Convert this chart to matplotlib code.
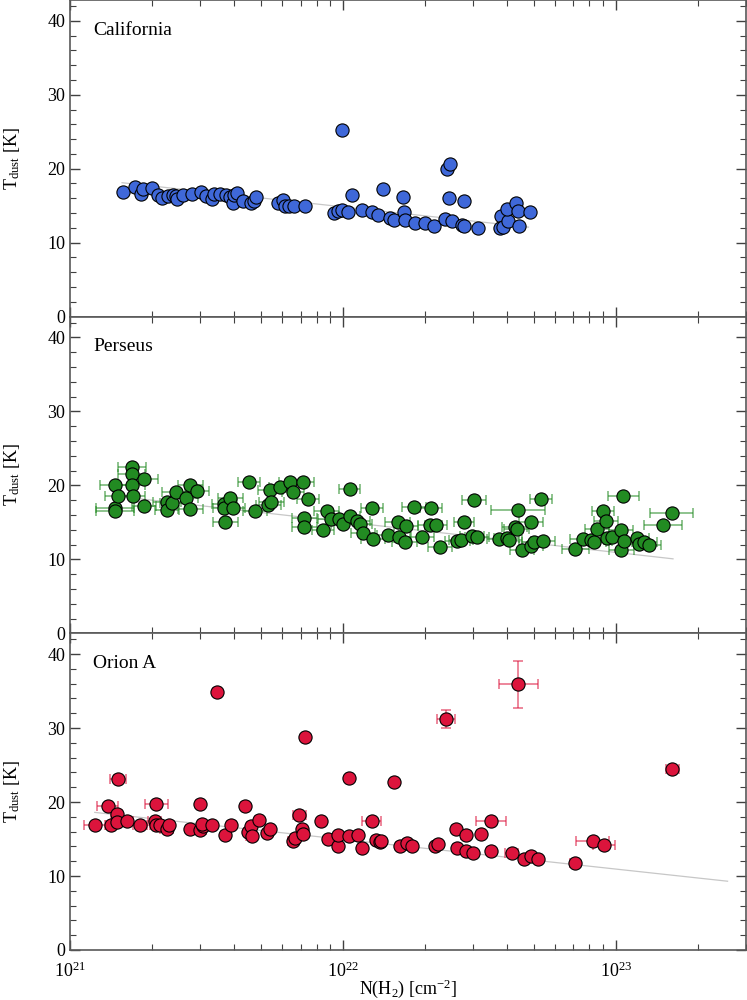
import matplotlib
matplotlib.use('Agg')
import matplotlib.pyplot as plt
import numpy as np
from matplotlib.ticker import LogLocator, MultipleLocator, NullFormatter

plt.rcParams['font.family'] = ['Liberation Serif', 'DejaVu Serif']
plt.rcParams['mathtext.fontset'] = 'custom'
plt.rcParams['mathtext.rm'] = 'Liberation Serif'
plt.rcParams['mathtext.it'] = 'Liberation Serif:italic'

# California: log10 N(H2), T_dust
cal_logN = [21.192, 21.238, 21.260, 21.268, 21.299, 21.322, 21.338, 21.359, 21.377, 21.387,
            21.392, 21.414, 21.445, 21.479, 21.499, 21.521, 21.526, 21.550, 21.572, 21.586,
            21.596, 21.599, 21.613, 21.633, 21.663, 21.672, 21.681, 21.760, 21.781, 21.788,
            21.803, 21.821, 21.860, 21.968, 21.983, 21.995, 21.996, 22.019, 22.034, 22.068,
            22.107, 22.129, 22.147, 22.174, 22.186, 22.219, 22.225, 22.229, 22.265, 22.299,
            22.335, 22.375, 22.381, 22.393, 22.387, 22.401, 22.442, 22.438, 22.445, 22.494,
            22.579, 22.575, 22.588, 22.606, 22.603, 22.633, 22.640, 22.646, 22.684]
cal_T = [16.8, 17.5, 16.6, 17.2, 17.4, 16.4, 16.1, 16.3, 16.4, 16.3,
         15.9, 16.5, 16.6, 16.8, 16.3, 15.9, 16.6, 16.6, 16.4, 16.2,
         15.4, 16.4, 16.7, 15.6, 15.4, 15.7, 16.2, 15.3, 15.8, 14.9,
         14.9, 15.0, 15.0, 14.0, 14.3, 14.4, 25.2, 14.2, 16.4, 14.4,
         14.2, 13.7, 17.2, 13.3, 13.0, 16.2, 14.2, 13.0, 12.6, 12.6,
         12.2, 13.2, 20.0, 20.7, 16.0, 12.9, 15.6, 12.4, 12.2, 12.0,
         13.6, 12.0, 12.1, 12.9, 14.5, 15.3, 14.3, 12.3, 14.1]

# Perseus
per_logN = [21.165, 21.165, 21.165, 21.177, 21.226, 21.226, 21.226, 21.229, 21.271, 21.271,
            21.355, 21.355, 21.374, 21.387, 21.424, 21.440, 21.440, 21.465, 21.565, 21.569,
            21.565, 21.587, 21.597, 21.656, 21.677, 21.726, 21.734, 21.737, 21.768, 21.806,
            21.818, 21.855, 21.858, 21.858, 21.871, 21.927, 21.940, 21.955, 21.984, 22.000,
            22.024, 22.024, 22.053, 22.061, 22.073, 22.106, 22.110, 22.165, 22.200, 22.206,
            22.226, 22.231, 22.261, 22.290, 22.319, 22.324, 22.342, 22.355, 22.419, 22.432,
            22.444, 22.473, 22.481, 22.492, 22.573, 22.600, 22.610, 22.629, 22.637, 22.642,
            22.656, 22.690, 22.690, 22.702, 22.726, 22.734, 22.852, 22.879, 22.911, 22.919,
            22.932, 22.952, 22.965, 22.968, 22.987, 23.019, 23.027, 23.021, 23.032, 23.077,
            23.084, 23.105, 23.121, 23.173, 23.205]
per_T = [20.1, 16.9, 16.6, 18.6, 22.5, 21.5, 20.0, 18.5, 20.9, 17.2,
         17.7, 16.7, 17.6, 19.1, 18.3, 20.1, 16.8, 19.3, 17.5, 15.0,
         17.0, 18.3, 16.9, 20.5, 16.6, 17.4, 19.4, 17.7, 19.8, 20.5,
         19.1, 20.5, 15.6, 14.4, 18.2, 14.0, 16.6, 15.5, 15.4, 14.8,
         19.5, 15.9, 15.2, 14.8, 13.5, 16.9, 12.8, 13.3, 15.1, 13.0,
         12.3, 14.5, 17.1, 13.0, 14.6, 16.9, 14.7, 11.7, 12.5, 12.6,
         15.1, 13.1, 18.0, 13.0, 12.7, 12.9, 12.6, 14.4, 14.1, 16.7,
         11.3, 15.0, 11.8, 12.4, 18.2, 12.5, 11.4, 12.8, 12.6, 12.3,
         14.1, 16.6, 15.2, 12.9, 13.0, 14.0, 18.5, 11.3, 12.5, 12.9,
         12.1, 12.4, 12.0, 14.6, 16.2]
# half-width of the N(H2) error bars in dex
per_xerr = [0.055, 0.070, 0.070, 0.050, 0.052, 0.050, 0.050, 0.045, 0.050, 0.045,
            0.050, 0.045, 0.045, 0.050, 0.045, 0.045, 0.045, 0.045, 0.045, 0.045,
            0.040, 0.045, 0.045, 0.040, 0.045, 0.045, 0.045, 0.045, 0.040, 0.040,
            0.040, 0.040, 0.045, 0.045, 0.040, 0.040, 0.045, 0.045, 0.045, 0.045,
            0.037, 0.040, 0.045, 0.045, 0.045, 0.040, 0.045, 0.040, 0.045, 0.045,
            0.045, 0.045, 0.045, 0.045, 0.045, 0.040, 0.040, 0.045, 0.045, 0.045,
            0.037, 0.045, 0.045, 0.045, 0.045, 0.045, 0.045, 0.045, 0.045, 0.100,
            0.045, 0.045, 0.045, 0.045, 0.040, 0.045, 0.050, 0.045, 0.045, 0.045,
            0.045, 0.040, 0.045, 0.045, 0.045, 0.045, 0.057, 0.045, 0.045, 0.045,
            0.045, 0.045, 0.045, 0.070, 0.079]

# Orion A
ori_logN = [21.091, 21.138, 21.148, 21.170, 21.175, 21.173, 21.209, 21.255, 21.309, 21.315,
            21.313, 21.328, 21.353, 21.361, 21.438, 21.477, 21.477, 21.487, 21.484, 21.519,
            21.538, 21.566, 21.591, 21.642, 21.652, 21.663, 21.665, 21.691, 21.722, 21.733,
            21.815, 21.825, 21.839, 21.849, 21.854, 21.861, 21.921, 21.946, 21.981, 21.983,
            22.021, 22.021, 22.056, 22.071, 22.105, 22.122, 22.135, 22.140, 22.186, 22.210,
            22.235, 22.253, 22.336, 22.348, 22.377, 22.415, 22.419, 22.451, 22.451, 22.478,
            22.507, 22.543, 22.543, 22.618, 22.643, 22.663, 22.689, 22.716, 22.849, 22.916,
            22.957, 23.208]
ori_T = [16.95, 19.5, 16.95, 18.4, 23.1, 17.3, 17.5, 16.95, 17.4, 19.7,
         16.95, 16.9, 16.4, 16.9, 16.4, 19.7, 16.2, 16.7, 17.0, 16.9,
         34.9, 15.6, 16.9, 19.4, 16.0, 16.7, 15.4, 17.6, 15.8, 16.3,
         14.7, 15.2, 18.3, 16.4, 15.7, 28.8, 17.5, 15.0, 14.1, 15.6,
         23.2, 15.4, 15.5, 13.8, 17.4, 14.9, 14.6, 14.7, 22.7, 14.1,
         14.5, 14.1, 14.1, 14.3, 31.2, 16.4, 13.8, 15.5, 13.4, 13.1,
         15.7, 17.4, 13.4, 13.1, 35.9, 12.3, 12.7, 12.3, 11.8, 14.7,
         14.2, 24.5]
ori_xerr = [0.039, 0.038, 0.020, 0.020, 0.029, 0.020, 0.020, 0.025, 0.025, 0.042,
            0.020, 0.020, 0.025, 0.020, 0.015, 0.015, 0.020, 0.015, 0.015, 0.015,
            0.015, 0.015, 0.015, 0.015, 0.015, 0.015, 0.020, 0.015, 0.015, 0.015,
            0.015, 0.015, 0.024, 0.015, 0.015, 0.010, 0.010, 0.010, 0.010, 0.010,
            0.010, 0.010, 0.010, 0.015, 0.035, 0.015, 0.015, 0.015, 0.010, 0.015,
            0.015, 0.020, 0.010, 0.010, 0.032, 0.015, 0.015, 0.020, 0.015, 0.015,
            0.015, 0.056, 0.015, 0.025, 0.071, 0.015, 0.015, 0.015, 0.015, 0.060,
            0.040, 0.024]
ori_yerr = [0.3, 0.3, 0.3, 0.3, 0.5, 0.3, 0.3, 0.3, 0.3, 0.3,
            0.3, 0.3, 0.3, 0.3, 0.3, 0.3, 0.3, 0.3, 0.3, 0.3,
            0.4, 0.3, 0.3, 0.3, 0.3, 0.3, 0.3, 0.3, 0.3, 0.3,
            0.3, 0.3, 0.3, 0.3, 0.3, 0.3, 0.3, 0.3, 0.3, 0.3,
            0.3, 0.3, 0.3, 0.3, 0.3, 0.3, 0.3, 0.3, 0.3, 0.3,
            0.3, 0.3, 0.3, 0.3, 1.2, 0.3, 0.3, 0.3, 0.3, 0.3,
            0.3, 0.3, 0.3, 0.3, 3.2, 0.3, 0.3, 0.3, 0.3, 0.3,
            0.3, 0.4]

# linear fits T = a + b*(logN - 22), drawn over [lo, hi] in logN
fit_a = [14.84, 15.09, 14.95]
fit_b = [-4.03, -4.15, -4.01]
fit_lo = [21.19, 21.17, 21.09]
fit_hi = [22.68, 23.21, 23.41]

names = ['California', 'Perseus', 'Orion A']
colors = ['#3f68d9', '#228b22', '#dc143c']


def xerr_from_dex(logN, dex):
    logN = np.asarray(logN)
    dex = np.asarray(dex)
    x = 10**logN
    return np.vstack([x - 10**(logN - dex), 10**(logN + dex) - x])


panels = [
    (cal_logN, cal_T, None, None),
    (per_logN, per_T, per_xerr, [0.3] * len(per_T)),
    (ori_logN, ori_T, ori_xerr, ori_yerr),
]

fig = plt.figure(figsize=(7.47, 10), dpi=100)
ph = 0.95 / 3
for i, (lN, T, xe, ye) in enumerate(panels):
    ax = fig.add_axes([0.094, 0.05 + (2 - i) * ph, 0.9045, ph])
    x = 10**np.asarray(lN)
    xx = np.linspace(fit_lo[i], fit_hi[i], 50)
    ax.plot(10**xx, fit_a[i] + fit_b[i] * (xx - 22), color='0.78', lw=0.9, zorder=1)
    if xe is not None:
        ax.errorbar(x, T, xerr=xerr_from_dex(lN, xe), yerr=ye, fmt='none',
                    ecolor=colors[i], alpha=0.6, elinewidth=1.2, capsize=3.5,
                    capthick=1.2, zorder=2)
    ax.plot(x, T, 'o', ms=9.5, mfc=colors[i], mec='black', mew=0.8, zorder=3)
    ax.set_xscale('log')
    ax.set_xlim(1e21, 3e23)
    ax.set_ylim(0, 42.8)
    ax.yaxis.set_major_locator(MultipleLocator(10))
    ax.yaxis.set_minor_locator(MultipleLocator(2))
    ax.xaxis.set_major_locator(LogLocator(base=10))
    ax.xaxis.set_minor_locator(LogLocator(base=10, subs=np.arange(2, 10)))
    ax.xaxis.set_minor_formatter(NullFormatter())
    ax.tick_params(which='both', direction='in', top=True, right=True,
                   color='0.25', labelsize=13)
    ax.tick_params(axis='x', which='major', pad=8)
    ax.tick_params(which='major', length=7, width=1.0)
    ax.tick_params(which='minor', length=4, width=0.8)
    for s in ax.spines.values():
        s.set_color('0.35')
        s.set_linewidth(1.2)
    ax.set_ylabel(r'T$_{\rm dust}$ [K]', fontsize=13)
    ax.yaxis.set_label_coords(-0.072, 0.5)
    ax.text(0.034, 0.905, names[i], transform=ax.transAxes, fontsize=14,
            va='center', ha='left')
    if i < 2:
        ax.tick_params(axis='x', labelbottom=False)
    else:
        ax.set_xlabel(r'N(H$_2$) [cm$^{-2}$]', fontsize=13, labelpad=-2)

fig.savefig('out.png', dpi=100)
